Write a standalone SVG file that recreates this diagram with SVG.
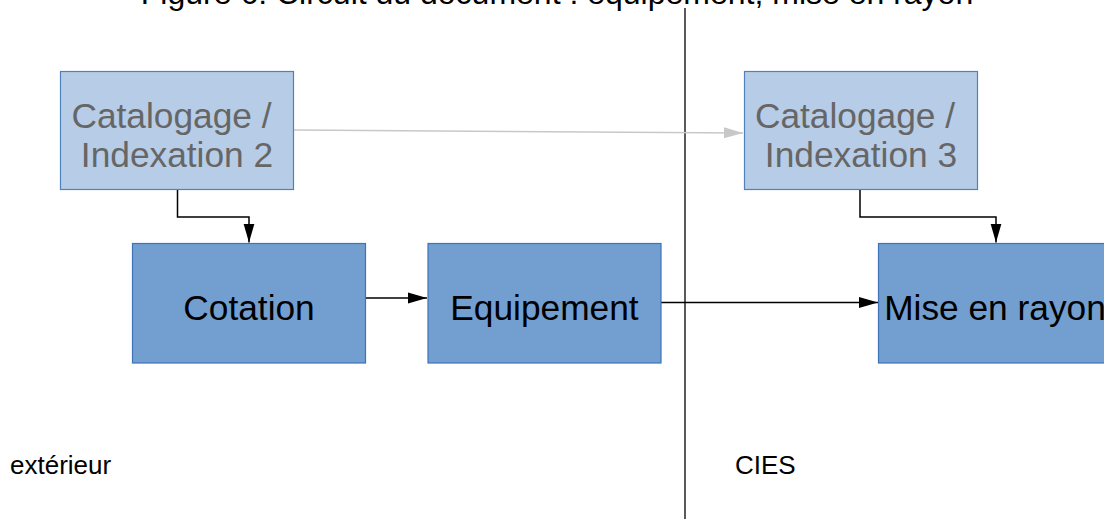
<svg xmlns="http://www.w3.org/2000/svg" width="1104" height="519" viewBox="0 0 1104 519">
  <style>
    text { font-family: "Liberation Sans", Arial, sans-serif; }
    .light { fill: #b7cce6; stroke: #4f81bd; stroke-width: 1.2; }
    .dark { fill: #729fcf; stroke: #3f73b8; stroke-width: 1.2; }
    .lt { font-size: 35.3px; fill: #666666; text-anchor: middle; }
    .dt { font-size: 35.3px; fill: #000000; text-anchor: middle; }
    .lbl { font-size: 26px; fill: #000000; }
    .conn { fill: none; stroke: #000000; stroke-width: 1.5; }
    .gconn { fill: none; stroke: #c8c8c8; stroke-width: 1.5; }
  </style>
  <defs>
    <marker id="ah" markerUnits="userSpaceOnUse" markerWidth="20" markerHeight="12" refX="19" refY="6" orient="auto">
      <path d="M0,0.5 L19,6 L0,11.5 z" fill="#000000"/>
    </marker>
    <marker id="ahg" markerUnits="userSpaceOnUse" markerWidth="20" markerHeight="12" refX="19" refY="6" orient="auto">
      <path d="M0,0.5 L19,6 L0,11.5 z" fill="#c8c8c8"/>
    </marker>
  </defs>
  <rect width="1104" height="519" fill="#ffffff"/>

  <text x="557" y="4" font-size="32" text-anchor="middle" fill="#000000">Figure 6: Circuit du document : équipement, mise en rayon</text>

  <line x1="685" y1="8" x2="685" y2="519" stroke="#000000" stroke-width="1.3"/>

  <g id="connectors">
    <line class="gconn" x1="294" y1="130" x2="743" y2="133" marker-end="url(#ahg)"/>
    <polyline class="conn" points="177.5,189.5 177.5,217 249,217 249,242.5" marker-end="url(#ah)"/>
    <polyline class="conn" points="860,190 860,217 996,217 996,242.5" marker-end="url(#ah)"/>
    <line class="conn" x1="366" y1="298" x2="427" y2="298" marker-end="url(#ah)"/>
    <line class="conn" x1="661" y1="302.5" x2="878" y2="302.5" marker-end="url(#ah)"/>
  </g>

  <g id="cat2">
    <rect class="light" x="60.5" y="71.5" width="233" height="118"/>
    <text class="lt" x="171.5" y="128">Catalogage /</text>
    <text class="lt" x="177" y="167">Indexation 2</text>
  </g>

  <g id="cat3">
    <rect class="light" x="744.5" y="71.5" width="233" height="118"/>
    <text class="lt" x="855" y="128">Catalogage /</text>
    <text class="lt" x="861" y="167">Indexation 3</text>
  </g>

  <g id="cotation">
    <rect class="dark" x="132.5" y="243.5" width="233" height="119.5"/>
    <text class="dt" x="249" y="320">Cotation</text>
  </g>

  <g id="equipement">
    <rect class="dark" x="428" y="243.5" width="233" height="119.5"/>
    <text class="dt" x="544.5" y="320">Equipement</text>
  </g>

  <g id="mise">
    <rect class="dark" x="878.5" y="243.5" width="233" height="119.5"/>
    <text class="dt" x="995" y="320">Mise en rayon</text>
  </g>

  <text class="lbl" x="10" y="474">extérieur</text>
  <text class="lbl" x="735" y="474">CIES</text>
</svg>
